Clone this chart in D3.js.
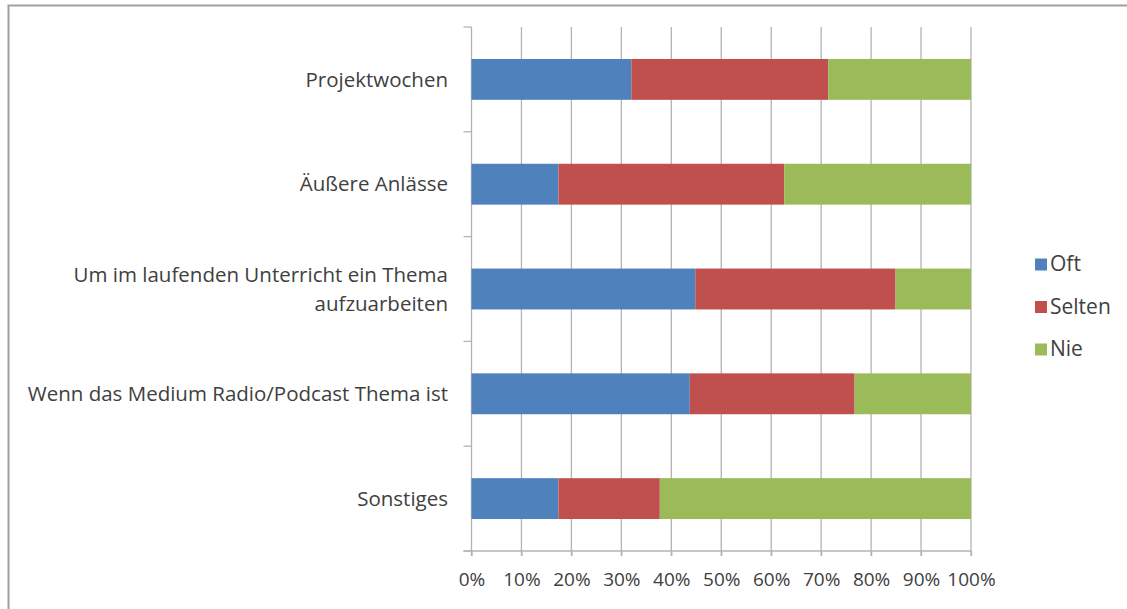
<!DOCTYPE html>
<html>
<head>
<meta charset="utf-8">
<script src="https://cdn.jsdelivr.net/npm/d3@7"></script>
<style>
  body { margin: 0; background: #fff; }
  text { font-family: "Open Sans", sans-serif; fill: #404040; }
</style>
</head>
<body>
<script>
var categories = [
  "Projektwochen",
  "Äußere Anlässe ",
  "Um im laufenden Unterricht ein Thema|aufzuarbeiten",
  "Wenn das Medium Radio/Podcast Thema ist",
  "Sonstiges"
];
var seriesNames = ["Oft", "Selten", "Nie"];
var seriesColors = ["#4f81bd", "#c0504d", "#9bbb59"];
// Prozentanteile je Kategorie (Oft, Selten, Nie)
var oft    = [32.0, 17.4, 44.8, 43.7, 17.4];
var selten = [39.4, 45.2, 40.1, 33.0, 20.3];
var nie    = [28.6, 37.4, 15.1, 23.3, 62.3];
var tickValues = [0, 10, 20, 30, 40, 50, 60, 70, 80, 90, 100];

var width = 1127, height = 609;
var plotLeft = 471.5, plotRight = 971, plotTop = 27, plotBottom = 551;

var svg = d3.select("body").append("svg")
    .attr("width", width).attr("height", height);

// Rahmen
svg.append("path")
    .attr("d", "M8.5," + height + "V5.5H" + width)
    .attr("fill", "none").attr("stroke", "#a0a0a0").attr("stroke-width", 2);

var x = d3.scaleLinear().domain([0, 100]).range([plotLeft, plotRight]);
var y = d3.scaleBand().domain(categories).range([plotTop, plotBottom])
    .paddingInner(0.61).paddingOuter(0.305);

// Gitterlinien
svg.append("g").selectAll("line").data(tickValues).enter().append("line")
    .attr("x1", function(d) { return x(d); }).attr("x2", function(d) { return x(d); })
    .attr("y1", plotTop).attr("y2", plotBottom + 5)
    .attr("stroke", "#b3b3b3").attr("stroke-width", 1.3);

// gestapelte Balken
var rows = categories.map(function(c, i) {
  return { cat: c, Oft: oft[i], Selten: selten[i], Nie: nie[i] };
});
var stack = d3.stack().keys(seriesNames)(rows);
svg.append("g").selectAll("g").data(stack).enter().append("g")
    .attr("fill", function(d, i) { return seriesColors[i]; })
  .selectAll("rect").data(function(d) { return d; }).enter().append("rect")
    .attr("x", function(d) { return x(d[0]); })
    .attr("width", function(d) { return x(d[1]) - x(d[0]); })
    .attr("y", function(d) { return y(d.data.cat); })
    .attr("height", y.bandwidth());

// x-Achse
var xAxis = d3.axisBottom(x).tickValues(tickValues)
    .tickFormat(function(d) { return d + "%"; }).tickSize(5).tickPadding(17);
var gx = svg.append("g").attr("transform", "translate(0," + plotBottom + ")").call(xAxis);
gx.select(".domain").attr("d", "M" + (plotLeft - 8) + ",0H" + plotRight).attr("stroke", "#b3b3b3").attr("stroke-width", 1.3);
gx.selectAll(".tick line").attr("stroke", "#b3b3b3").attr("stroke-width", 1.3);
gx.selectAll(".tick text").style("font-size", "19px").style("font-family", "Open Sans, sans-serif").attr("fill", "#404040");

// y-Achse: Trennstriche zwischen den Kategorien
var sep = categories.map(function(c) { return y(c) - y.step() * y.paddingInner() / 2; });
sep.push(plotBottom);
svg.append("g").selectAll("line").data(sep).enter().append("line")
    .attr("x1", plotLeft - 8).attr("x2", plotLeft)
    .attr("y1", function(d) { return d; }).attr("y2", function(d) { return d; })
    .attr("stroke", "#b3b3b3").attr("stroke-width", 1.3);

// Kategorien
var labels = svg.append("g").selectAll("text").data(categories).enter().append("text")
    .attr("text-anchor", "end")
    .attr("x", 448)
    .attr("y", function(d) { return y(d) + y.bandwidth() / 2; })
    .style("font-size", "20.5px");
labels.each(function(d) {
  var parts = d.split("|");
  var t = d3.select(this);
  parts.forEach(function(p, i) {
    t.append("tspan").attr("x", 448)
      .attr("dy", i === 0 ? (0.35 - (parts.length - 1) * 0.71) + "em" : "1.42em")
      .text(p);
  });
});

// Legende
var legend = svg.append("g").selectAll("g").data(seriesNames).enter().append("g")
    .attr("transform", function(d, i) { return "translate(1035," + (264 + i * 42.5) + ")"; });
legend.append("rect").attr("x", 0).attr("y", -5.5).attr("width", 12).attr("height", 12)
    .attr("fill", function(d, i) { return seriesColors[i]; });
legend.append("text").attr("x", 15).attr("y", 0).attr("dy", "0.35em")
    .style("font-size", "21px").text(function(d) { return d; });
</script>
</body>
</html>
